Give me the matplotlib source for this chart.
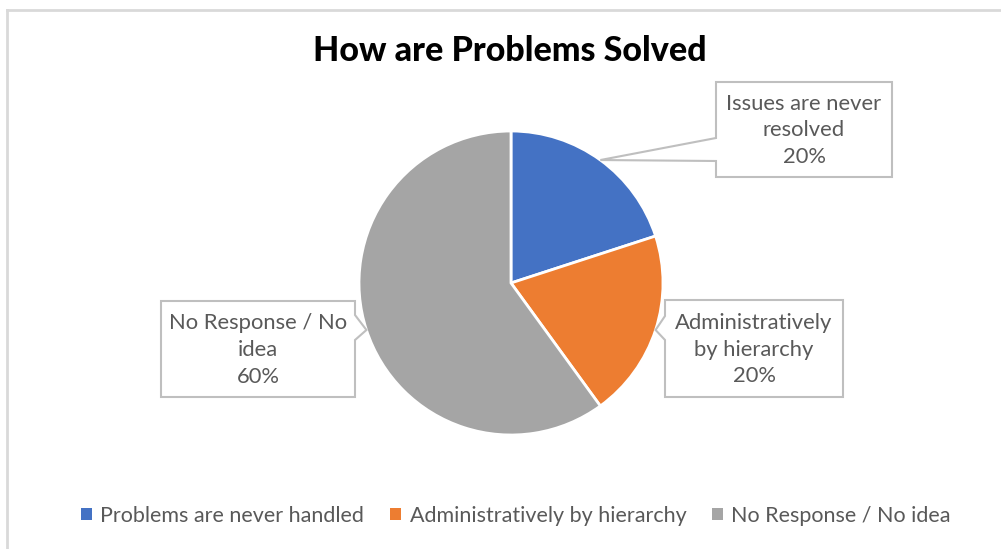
import numpy as np
import matplotlib
matplotlib.use("Agg")
from matplotlib import pyplot as plt
from matplotlib.patches import Polygon, Rectangle
from matplotlib.lines import Line2D

legend_labels = ["Problems are never handled", "Administratively by hierarchy", "No Response / No idea"]
callout_labels = ["Issues are never\nresolved", "Administratively\nby hierarchy", "No Response / No\nidea"]
shares = [20, 20, 60]
colors = ["#4472C4", "#ED7D31", "#A5A5A5"]

W, H = 1001, 549
fig = plt.figure(figsize=(W / 100, H / 100), dpi=100)
fig.patch.set_facecolor("white")

# pie placement in pixels (center and radius)
cx, cy, r = 511, 283, 152
ax = fig.add_axes([(cx - r) / W, 1 - (cy + r) / H, 2 * r / W, 2 * r / H])
wedges, _ = ax.pie(shares, colors=colors, startangle=90, counterclock=False,
                   wedgeprops=dict(edgecolor="white", linewidth=2))
ax.set_xlim(-1, 1)
ax.set_ylim(-1, 1)
ax.set_aspect("equal")
ax.axis("off")

# overlay in pixel coordinates for frame, title and callouts
ov = fig.add_axes([0, 0, 1, 1], zorder=5)
ov.set_xlim(0, W)
ov.set_ylim(H, 0)
ov.axis("off")

frame = "#D9D9D9"
ov.add_line(Line2D([7, 7], [9.5, H], color=frame, lw=2))
ov.add_line(Line2D([7, W], [9.5, 9.5], color=frame, lw=2))

ov.text(510, 51, "How are Problems Solved", ha="center", va="center",
        fontsize=24.5, fontweight="black", family="Lato", color="black")

# callout boxes: (left, top, right, bottom), side the pointer leaves from
boxes = [(716, 82, 892, 177, "left"),
         (665, 300, 843, 397, "left"),
         (161, 301, 355, 397, "right")]
attach = [(138, 161), (316, 340), (315, 340)]

mids = []
start = 90.0
for v in shares:
    sweep = 360.0 * v / sum(shares)
    mids.append(np.deg2rad(start - sweep / 2))
    start -= sweep

for (l, t, rr, b, side), (a0, a1), ang, lab, v in zip(boxes, attach, mids, callout_labels, shares):
    tip = (cx + r * np.cos(ang), cy - r * np.sin(ang))
    if side == "left":
        pts = [(l, t), (rr, t), (rr, b), (l, b), (l, a1), tip, (l, a0)]
    else:
        pts = [(l, t), (rr, t), (rr, a0), tip, (rr, a1), (rr, b), (l, b)]
    ov.add_patch(Polygon(pts, closed=True, facecolor="white", edgecolor="#BFBFBF", lw=1.5))
    ov.text((l + rr) / 2, (t + b) / 2 + 1, f"{lab}\n{v}%", ha="center", va="center",
            fontsize=15.8, family="Lato", color="#595959", linespacing=1.42)

handles = [Rectangle((0, 0), 1, 1, facecolor=c, edgecolor="none") for c in colors]
fig.legend(handles, legend_labels, loc="center", bbox_to_anchor=(516 / W, 1 - 516 / H),
           ncol=3, frameon=False, handlelength=0.5, handleheight=0.5, handletextpad=0.4,
           columnspacing=1.2, prop=dict(family="Lato", size=15.5), labelcolor="#595959")

fig.savefig("out.png", dpi=100)
